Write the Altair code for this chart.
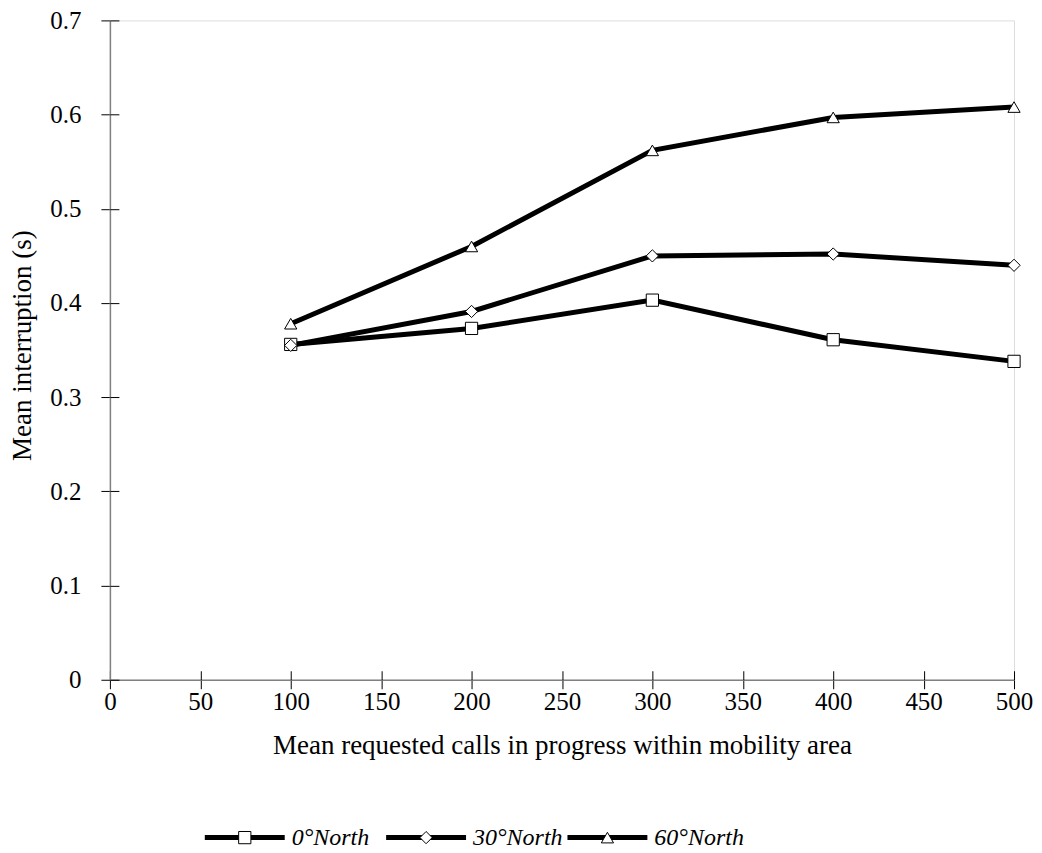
import altair as alt
import pandas as pd

calls = [100, 200, 300, 400, 500]
north0 = [0.356, 0.373, 0.403, 0.361, 0.338]
north30 = [0.355, 0.391, 0.450, 0.452, 0.440]
north60 = [0.378, 0.460, 0.562, 0.597, 0.608]
series = ["0°North", "30°North", "60°North"]
shapes = ["square", "diamond", "triangle-up"]
x_ticks = [0, 50, 100, 150, 200, 250, 300, 350, 400, 450, 500]
y_ticks = [0, 0.1, 0.2, 0.3, 0.4, 0.5, 0.6, 0.7]

rows = []
for name, vals in zip(series, [north0, north30, north60]):
    for c, v in zip(calls, vals):
        rows.append({"series": name, "calls": c, "value": v})
df = pd.DataFrame(rows)
leg = pd.DataFrame({"series": series})

FONT = "Liberation Serif"
W, H = 905, 660

xs = alt.Scale(domain=[0, 500], nice=False, zero=False)
ys = alt.Scale(domain=[0, 0.7], nice=False, zero=False)
shape_scale = alt.Scale(domain=series, range=shapes)

lines = alt.Chart(df).mark_line(color="black", strokeWidth=5).encode(
    x=alt.X("calls:Q", scale=xs,
            axis=alt.Axis(values=x_ticks, tickSize=9, tickColor="black", tickWidth=1,
                          domainColor="#808080", domainWidth=1.5, grid=False,
                          labelFont=FONT, labelFontSize=25, labelColor="black", labelPadding=1,
                          labelFlush=False, labelOverlap=False,
                          title="Mean requested calls in progress within mobility area",
                          titleFont=FONT, titleFontSize=27, titleFontWeight="normal",
                          titleColor="black", titleX=W / 2, titleY=66, titleBaseline="middle")),
    y=alt.Y("value:Q", scale=ys,
            axis=alt.Axis(values=y_ticks, format=".1~f", tickSize=9, tickColor="black", tickWidth=1,
                          domainColor="#808080", domainWidth=1.5, grid=False,
                          labelFont=FONT, labelFontSize=25, labelColor="black", labelPadding=20,
                          labelFlush=False, labelOverlap=False,
                          title="Mean interruption (s)",
                          titleFont=FONT, titleFontSize=27, titleFontWeight="normal",
                          titleColor="black", titleX=-87, titleY=325, titleBaseline="middle")),
    detail="series:N",
)

points = alt.Chart(df).mark_point(filled=False, fill="white", fillOpacity=1, stroke="black",
                                  strokeWidth=1, opacity=1, size=150).encode(
    x=alt.X("calls:Q", scale=xs,
            axis=alt.Axis(orient="top", offset=-H, values=x_ticks, tickSize=9, tickColor="black",
                          labels=False, domain=False, grid=False, title=None)),
    y=alt.Y("value:Q", scale=ys,
            axis=alt.Axis(orient="right", offset=-W, values=y_ticks, tickSize=9, tickColor="black",
                          labels=False, domain=False, grid=False, title=None)),
    shape=alt.Shape("series:N", scale=shape_scale, legend=None),
)

lx = alt.X("series:N", scale=alt.Scale(type="point", domain=series, range=[135, 498], padding=0),
           axis=None)
leg_rule = alt.Chart(leg).mark_rule(color="black", strokeWidth=5, xOffset=-40, x2Offset=40).encode(
    x=lx, x2="series:N", y=alt.value(818)
)
leg_pt = alt.Chart(leg).mark_point(filled=False, fill="white", fillOpacity=1, stroke="black",
                                   strokeWidth=1, opacity=1, size=150).encode(
    x=lx, y=alt.value(818), shape=alt.Shape("series:N", scale=shape_scale, legend=None)
)
leg_txt = alt.Chart(leg).mark_text(align="left", baseline="middle", dx=47, font=FONT,
                                   fontSize=24, fontStyle="italic", color="black").encode(
    x=lx, y=alt.value(818), text="series:N"
)

chart = alt.layer(lines, points, leg_rule, leg_pt, leg_txt).resolve_scale(
    x="independent", y="independent"
).resolve_axis(x="independent", y="independent").properties(
    width=W, height=H,
    autosize=alt.AutoSizeParams(type="none"),
    padding={"left": 102, "top": 12, "right": 20, "bottom": 172},
).configure_view(stroke=None).configure(background="white")

chart.save("out.html", embed_options={"renderer": "svg", "actions": False})
